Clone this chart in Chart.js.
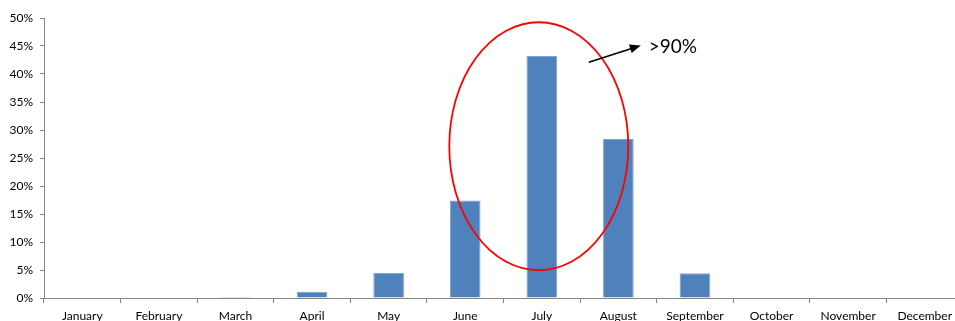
<!DOCTYPE html>
<html>
<head>
<meta charset="utf-8">
<script src="https://cdn.jsdelivr.net/npm/chart.js@4/dist/chart.umd.min.js"></script>
<style>
  html, body { margin: 0; padding: 0; background: #fff; overflow: hidden; }
  #wrap { width: 963px; height: 321px; }
</style>
</head>
<body>
<div id="wrap"><canvas id="c" width="963" height="321"></canvas></div>
<script>
// Monthly share of events (percent)
const months = ['January', 'February', 'March', 'April', 'May', 'June', 'July', 'August', 'September', 'October', 'November', 'December'];
const shares = [0, 0, 0.2, 1.1, 4.5, 17.4, 43.2, 28.4, 4.4, 0, 0, 0];
const calloutText = '>90%';

const AXIS = '#868686';

// Red ellipse around the June–August peak plus an arrow with a note
const highlight = {
  id: 'highlight',
  afterDatasetsDraw(chart) {
    const { ctx, scales: { x, y } } = chart;
    const cx = x.getPixelForValue(6) - 3;
    const cy = y.getPixelForValue(27.1);
    ctx.save();
    ctx.strokeStyle = '#FF0000';
    ctx.lineWidth = 1.8;
    ctx.beginPath();
    ctx.ellipse(cx, cy, 89.5, 124, 0, 0, Math.PI * 2);
    ctx.stroke();

    // arrow
    const x1 = cx + 50, y1 = y.getPixelForValue(42.1);
    const x2 = cx + 102, y2 = y.getPixelForValue(45.1);
    const ang = Math.atan2(y2 - y1, x2 - x1);
    ctx.strokeStyle = '#000';
    ctx.fillStyle = '#000';
    ctx.lineWidth = 1.6;
    ctx.beginPath();
    ctx.moveTo(x1, y1);
    ctx.lineTo(x2 - 8 * Math.cos(ang), y2 - 8 * Math.sin(ang));
    ctx.stroke();
    ctx.beginPath();
    ctx.moveTo(x2, y2);
    ctx.lineTo(x2 - 11 * Math.cos(ang) + 4.5 * Math.sin(ang), y2 - 11 * Math.sin(ang) - 4.5 * Math.cos(ang));
    ctx.lineTo(x2 - 11 * Math.cos(ang) - 4.5 * Math.sin(ang), y2 - 11 * Math.sin(ang) + 4.5 * Math.cos(ang));
    ctx.closePath();
    ctx.fill();

    ctx.font = '19px Lato, "Open Sans", sans-serif';
    ctx.textBaseline = 'middle';
    ctx.textAlign = 'left';
    ctx.fillText(calloutText, x2 + 8, y2 + 1);
    ctx.restore();
  }
};

new Chart(document.getElementById('c'), {
  type: 'bar',
  data: {
    labels: months,
    datasets: [{
      data: shares,
      backgroundColor: '#4F81BD',
      borderColor: '#7EA2CF',
      borderWidth: 1,
      categoryPercentage: 1,
      barPercentage: 0.4
    }]
  },
  options: {
    responsive: false,
    animation: false,
    layout: { padding: { top: 18, left: 0, right: 0, bottom: 0 } },
    plugins: { legend: { display: false }, tooltip: { enabled: false } },
    scales: {
      x: {
        offset: true,
        grid: { offset: true, drawOnChartArea: false, tickLength: 5, color: AXIS, lineWidth: 1 },
        border: { color: AXIS, width: 1 },
        ticks: { color: '#000', font: { family: 'Lato', size: 12 }, padding: 6, maxRotation: 0, autoSkip: false },
        afterFit(s) { s.height = 23; }
      },
      y: {
        min: 0,
        max: 50,
        grid: { drawOnChartArea: false, tickLength: 4, color: AXIS },
        border: { color: AXIS, width: 1 },
        ticks: {
          stepSize: 5,
          color: '#000',
          font: { family: 'Lato', size: 12 },
          padding: 7,
          callback: v => v + '%'
        },
        afterFit(s) { s.width = 44; }
      }
    }
  },
  plugins: [highlight]
});
</script>
</body>
</html>
